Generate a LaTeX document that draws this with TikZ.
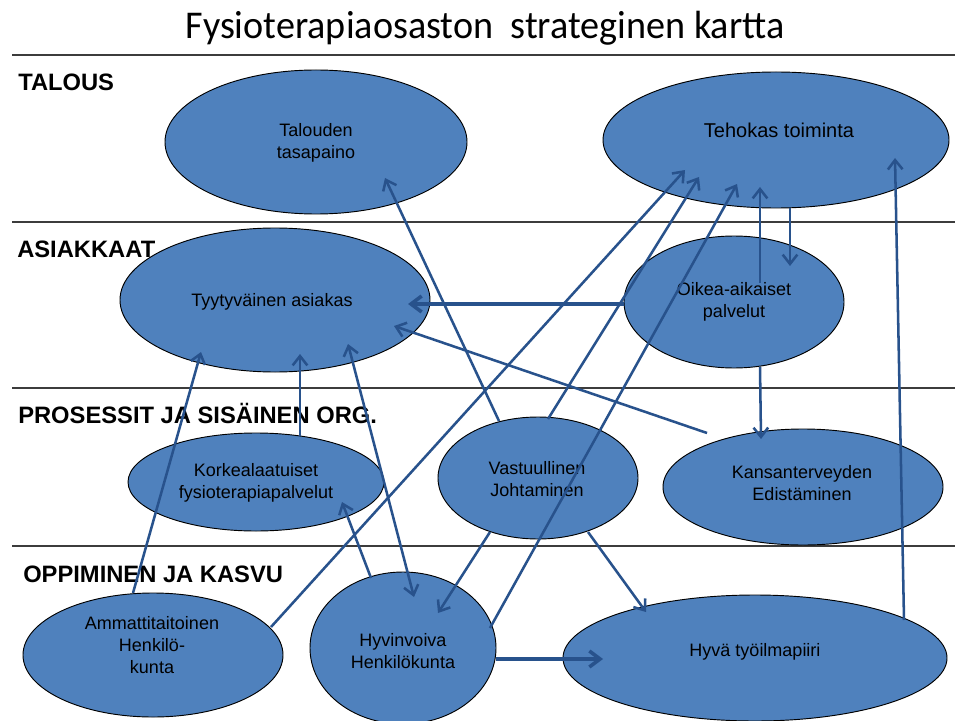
\documentclass[tikz,border=0pt]{standalone}
\usepackage{fontspec}
\setmainfont{Liberation Sans}
\newfontfamily\titlefont{Carlito}
\usetikzlibrary{shapes.geometric,arrows.meta}
\definecolor{ellfill}{RGB}{79,129,189}
\definecolor{conncol}{RGB}{40,82,140}
\definecolor{rulecol}{RGB}{60,60,60}
\begin{document}
\begin{tikzpicture}[x=0.75pt,y=-0.75pt,
  ell/.style={ellipse,draw=black,line width=0.7pt,fill=ellfill,inner sep=0pt},
  etext/.style={align=center,font=\fontsize{13.5}{16.5}\selectfont,inner sep=0pt},
  lane/.style={anchor=base west,font=\fontsize{17.8}{20}\selectfont\bfseries,inner sep=0pt},
  connector/.style={draw=conncol,line width=1.9pt,-{Straight Barb[length=7pt,width=11pt]}},
  bothconnector/.style={draw=conncol,line width=1.9pt,{Straight Barb[length=7pt,width=11pt]}-{Straight Barb[length=7pt,width=11pt]}},
  thickconnector/.style={draw=conncol,line width=2.7pt,-{Straight Barb[length=8pt,width=12pt]}},
  hrule/.style={draw=rulecol,line width=1.1pt}]
\useasboundingbox (0,0) rectangle (955,720);
\fill[white] (0,0) rectangle (955,720);

% title
\node[font=\titlefont\fontsize{29.5}{31}\selectfont,anchor=base,inner sep=0pt,xscale=0.97] (title) at (485,39) {Fysioterapiaosaston\ \ strateginen kartta};

% lane rules
\draw[hrule] (12,55) -- (955,55);
\draw[hrule] (12,222) -- (955,222);
\draw[hrule] (12,388) -- (955,388);
\draw[hrule] (12,546) -- (955,546);

% ellipses
\node[ell,minimum width=226.5pt,minimum height=108pt] (tal) at (316,142) {};
\node[ell,minimum width=259.5pt,minimum height=102pt] (teh) at (776,140) {};
\node[ell,minimum width=232.5pt,minimum height=108pt] (tyy) at (275,300) {};
\node[ell,minimum width=165pt,minimum height=99pt] (oik) at (734,302) {};
\node[ell,minimum width=192pt,minimum height=73.5pt] (kor) at (256,482) {};
\node[ell,minimum width=150pt,minimum height=91.5pt] (vas) at (538,478) {};
\node[ell,minimum width=210pt,minimum height=87pt] (kan) at (803,487) {};
\node[ell,minimum width=195pt,minimum height=93pt] (amm) at (153,655) {};
\node[ell,minimum width=139.5pt,minimum height=114pt] (hyv) at (403,648) {};
\node[ell,minimum width=288pt,minimum height=94.5pt] (hto) at (755,658) {};

% ellipse texts
\node[etext] (talT) at (316,143) {Talouden\\tasapaino};
\node[etext,font=\fontsize{15}{18}\selectfont] (tehT) at (779,130) {Tehokas toiminta};
\node[etext] (tyyT) at (272,302) {Tyytyväinen asiakas};
\node[etext] (oikT) at (734,302) {Oikea-aikaiset\\palvelut};
\node[etext] (korT) at (256,483) {Korkealaatuiset\\fysioterapiapalvelut};
\node[etext] (vasT) at (537,479) {Vastuullinen\\Johtaminen};
\node[etext] (kanT) at (802,483) {Kansanterveyden\\Edistäminen};
\node[etext] (ammT) at (152,645) {Ammattitaitoinen\\Henkilö-\\kunta};
\node[etext] (hyvT) at (403,651) {Hyvinvoiva\\Henkilökunta};
\node[etext] (htoT) at (755,652) {Hyvä työilmapiiri};

% lane labels
\node[lane] (l1) at (18,91) {TALOUS};
\node[lane] (l2) at (17,257) {ASIAKKAAT};
\node[lane] (l3) at (18,423) {PROSESSIT JA SISÄINEN ORG.};
\node[lane] (l4) at (23,582) {OPPIMINEN JA KASVU};

% connector end points
\coordinate (a1) at (499,421); \coordinate (a2) at (385,178);
\coordinate (b1) at (271,627); \coordinate (b2) at (685,170);
\coordinate (c1) at (548,419); \coordinate (c2) at (699,177);
\coordinate (d1) at (490,628); \coordinate (d2) at (737,184);
\coordinate (e1) at (760,283); \coordinate (e2) at (760,187);
\coordinate (f1) at (790,208); \coordinate (f2) at (790,266);
\coordinate (g1) at (904,620); \coordinate (g2) at (895,158);
\coordinate (h1) at (624,304); \coordinate (h2) at (408,304);
\coordinate (i1) at (707,433); \coordinate (i2) at (394,326);
\coordinate (j1) at (760,367); \coordinate (j2) at (761,439);
\coordinate (k1) at (133,593); \coordinate (k2) at (201,352);
\coordinate (l1c) at (300,436); \coordinate (l2c) at (300,354);
\coordinate (m1) at (371,578); \coordinate (m2) at (342,502);
\coordinate (q1) at (348,344); \coordinate (q2) at (414,597);
\coordinate (n1) at (490,532); \coordinate (n2) at (438,613);
\coordinate (o1) at (588,532); \coordinate (o2) at (646,612);
\coordinate (p1) at (496,659); \coordinate (p2) at (603,659);

% connectors
\draw[connector] (a1) -- (a2);
\draw[connector] (b1) -- (b2);
\draw[connector] (c1) -- (c2);
\draw[connector] (d1) -- (d2);
\draw[connector] (e1) -- (e2);
\draw[connector] (f1) -- (f2);
\draw[connector] (g1) -- (g2);
\draw[thickconnector] (h1) -- (h2);
\draw[connector] (i1) -- (i2);
\draw[connector] (j1) -- (j2);
\draw[connector] (k1) -- (k2);
\draw[connector] (l1c) -- (l2c);
\draw[connector] (m1) -- (m2);
\draw[bothconnector] (q1) -- (q2);
\draw[connector] (n1) -- (n2);
\draw[connector] (o1) -- (o2);
\draw[thickconnector] (p1) -- (p2);
\end{tikzpicture}
\end{document}
